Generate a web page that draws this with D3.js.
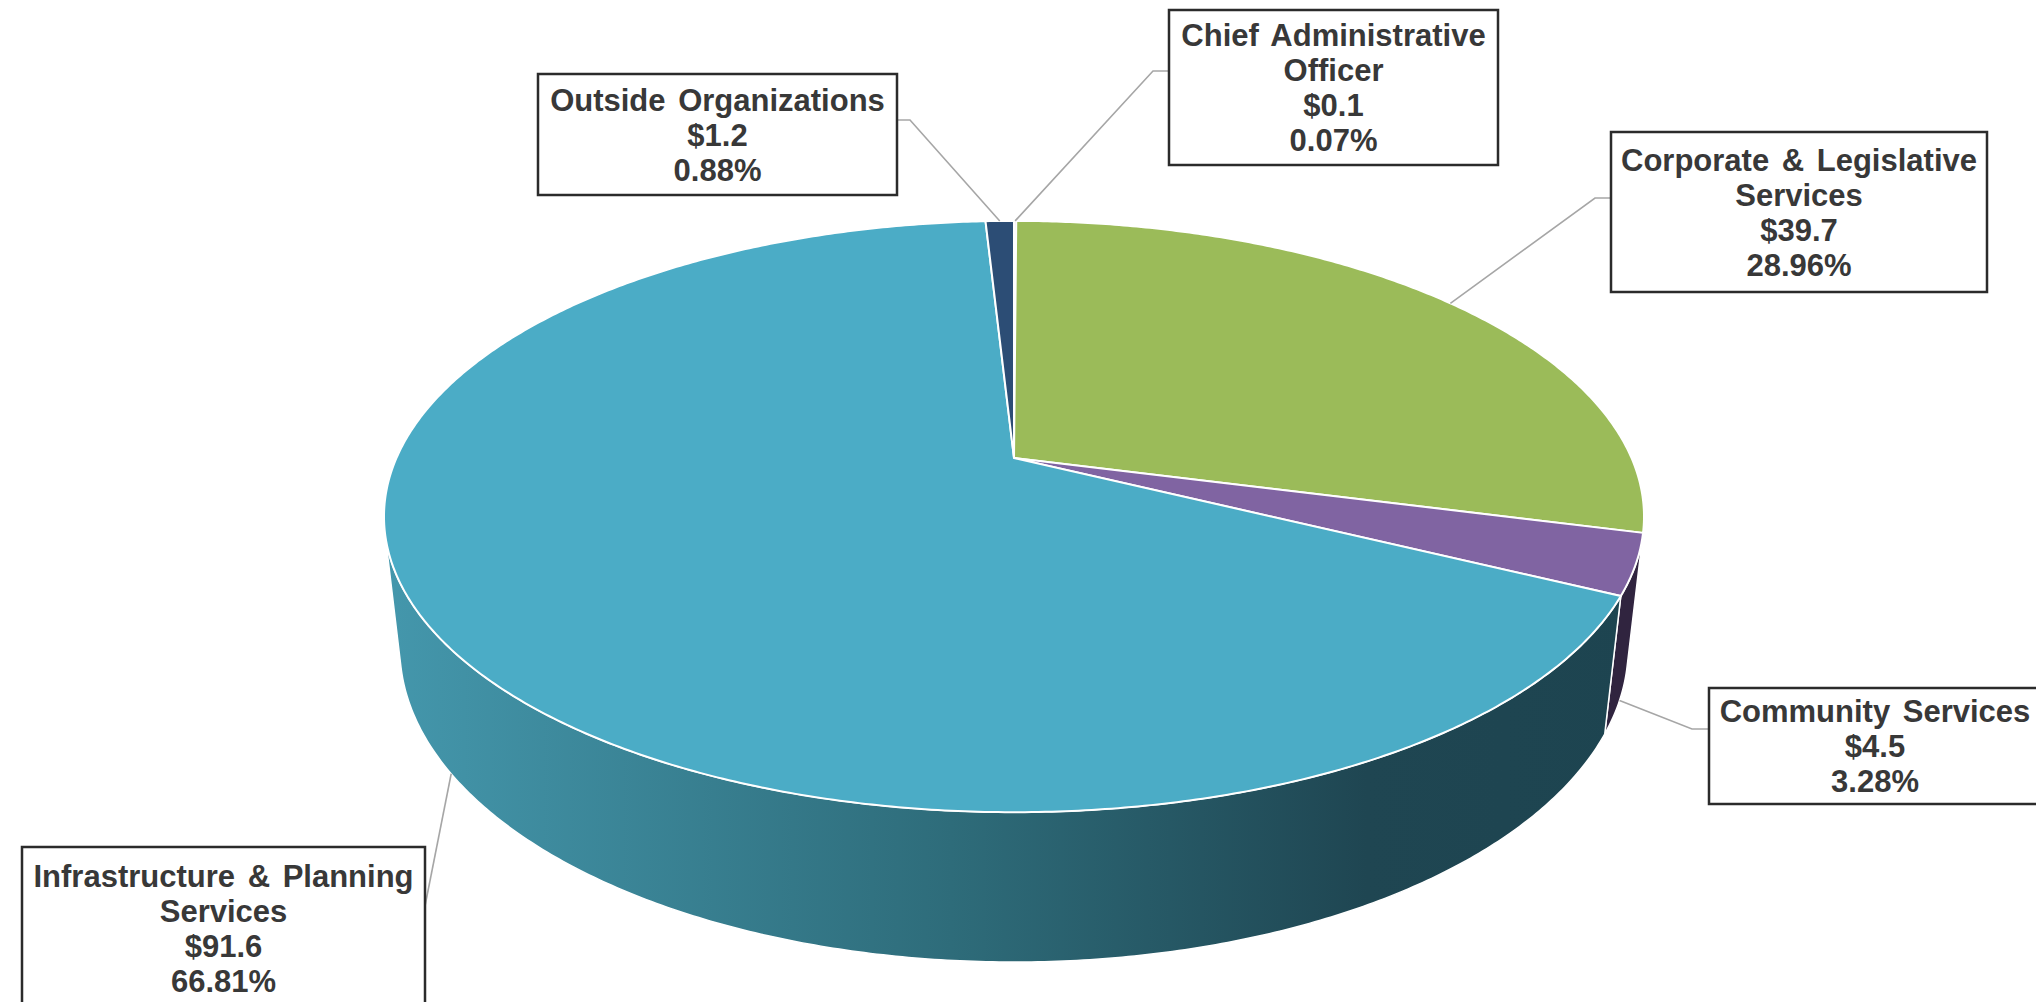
<!DOCTYPE html>
<html>
<head>
<meta charset="utf-8">
<script src="https://cdn.jsdelivr.net/npm/d3@7"></script>
<style>
  body { margin: 0; background: #fff; }
  svg text { font-family: "Liberation Sans", Arial, sans-serif; font-weight: bold; }
</style>
</head>
<body>
<div id="chart"></div>
<script>
// data, clockwise from 12 o'clock
var categories = ["Chief Administrative Officer", "Corporate & Legislative Services", "Community Services",
                  "Infrastructure & Planning Services", "Outside Organizations"];
var amounts = [0.1, 39.7, 4.5, 91.6, 1.2];   // $ millions
var shares = [0.07, 28.96, 3.28, 66.81, 0.88]; // percent
var labelLines = [["Chief Administrative", "Officer"], ["Corporate & Legislative", "Services"],
                  ["Community Services"], ["Infrastructure & Planning", "Services"], ["Outside Organizations"]];
var topColors = ["#C0504D", "#9BBB59", "#8064A2", "#4BACC6", "#2C4D75"];
var sideColors = ["#5a2524", "#4a5a2a", "#30243F", "url(#sideGrad)", "#15243a"];

var width = 2036, height = 1002;

// 3d view of the pie (perspective)
var cx = 1014, cy = 458,
    f = 2769, D = 4.484, tilt = Math.asin(0.46),
    depth = 0.242;
var sn = Math.sin(tilt), cs = Math.cos(tilt);

function proj(a, r, yy) {
  var X = r * Math.sin(a), Z = -r * Math.cos(a);
  var sx = X, sy = Z * sn - yy * cs, d = D - Z * cs - yy * sn;
  return [cx + f * sx / d, cy + f * sy / d];
}

// outer wall faces the viewer between these angles
var aVis = Math.acos(-1 / (D * cs));
var aVis2 = 2 * Math.PI - aVis;

var pie = d3.pie().sort(null).value(function(d) { return d; });
var arcs = pie(shares);

var svg = d3.select("#chart").append("svg")
    .attr("width", width)
    .attr("height", height);

var defs = svg.append("defs");
var grad = defs.append("linearGradient")
    .attr("id", "sideGrad")
    .attr("gradientUnits", "userSpaceOnUse")
    .attr("x1", proj(aVis2, 1, 0)[0]).attr("y1", 0)
    .attr("x2", proj(aVis, 1, 0)[0]).attr("y2", 0);
grad.append("stop").attr("offset", 0).attr("stop-color", "#4497AC");
grad.append("stop").attr("offset", 0.45).attr("stop-color", "#2E6C7A");
grad.append("stop").attr("offset", 0.78).attr("stop-color", "#1F4652");
grad.append("stop").attr("offset", 1).attr("stop-color", "#1D4450");

var line = d3.line();

function samples(a0, a1) {
  var n = Math.max(2, Math.ceil((a1 - a0) / (Math.PI / 360)));
  return d3.range(n + 1).map(function(i) { return a0 + (a1 - a0) * i / n; });
}

// outer walls
var walls = svg.append("g");
arcs.forEach(function(s, i) {
  var a0 = Math.max(s.startAngle, aVis), a1 = Math.min(s.endAngle, aVis2);
  if (a1 <= a0) return;
  var ang = samples(a0, a1);
  var pts = ang.map(function(a) { return proj(a, 1, 0); })
    .concat(ang.slice().reverse().map(function(a) { return proj(a, 1, -depth); }));
  walls.append("path")
      .attr("d", line(pts) + "Z")
      .attr("fill", sideColors[i])
      .attr("stroke", "#fff")
      .attr("stroke-width", 1.5)
      .attr("stroke-linejoin", "round");
});

// top faces
var tops = svg.append("g");
arcs.forEach(function(s, i) {
  var ang = samples(s.startAngle, s.endAngle);
  var pts = [proj(0, 0, 0)].concat(ang.map(function(a) { return proj(a, 1, 0); }));
  tops.append("path")
      .attr("d", line(pts) + "Z")
      .attr("fill", topColors[i])
      .attr("stroke", "#fff")
      .attr("stroke-width", 2)
      .attr("stroke-linejoin", "round");
});

// label boxes: x, y, w, h, which side the leader joins, elbow length
var boxes = [
  {x: 1169, y: 10, w: 329, h: 155, side: "left", elbow: 16, ly: 71},
  {x: 1611, y: 132, w: 376, h: 160, side: "left", elbow: 16, ly: 198},
  {x: 1709, y: 688, w: 332, h: 116, side: "left", elbow: 17, ly: 729},
  {x: 22, y: 847, w: 403, h: 162, side: "right", elbow: 0, ly: 906},
  {x: 538, y: 74, w: 359, h: 121, side: "right", elbow: 13, ly: 120}
];

var lineH = 35;
var labels = svg.append("g");
arcs.forEach(function(s, i) {
  var b = boxes[i];
  var mid = (s.startAngle + s.endAngle) / 2;
  var front = mid > aVis && mid < aVis2;
  var anchor = proj(mid, 1, front ? -depth : 0);
  var ex = b.side === "left" ? b.x : b.x + b.w;
  var elbowX = b.side === "left" ? ex - b.elbow : ex + b.elbow;
  labels.append("path")
      .attr("d", line([anchor, [elbowX, b.ly], [ex, b.ly]]))
      .attr("fill", "none")
      .attr("stroke", "#A6A6A6")
      .attr("stroke-width", 1.6);

  labels.append("rect")
      .attr("x", b.x).attr("y", b.y)
      .attr("width", b.w).attr("height", b.h)
      .attr("fill", "#fff")
      .attr("stroke", "#2b2b2b")
      .attr("stroke-width", 2.5);

  var rows = labelLines[i].concat(["$" + amounts[i].toFixed(1), shares[i].toFixed(2) + "%"]);
  var y0 = b.y + b.h / 2 - (rows.length - 1) * lineH / 2;
  labels.selectAll(null)
    .data(rows)
    .enter().append("text")
      .attr("x", b.x + b.w / 2)
      .attr("y", function(d, k) { return y0 + k * lineH; })
      .attr("dy", "0.36em")
      .attr("text-anchor", "middle")
      .attr("font-size", 31)
      .attr("word-spacing", 4)
      .attr("fill", "#383838")
      .text(function(d) { return d; });
});
</script>
</body>
</html>
